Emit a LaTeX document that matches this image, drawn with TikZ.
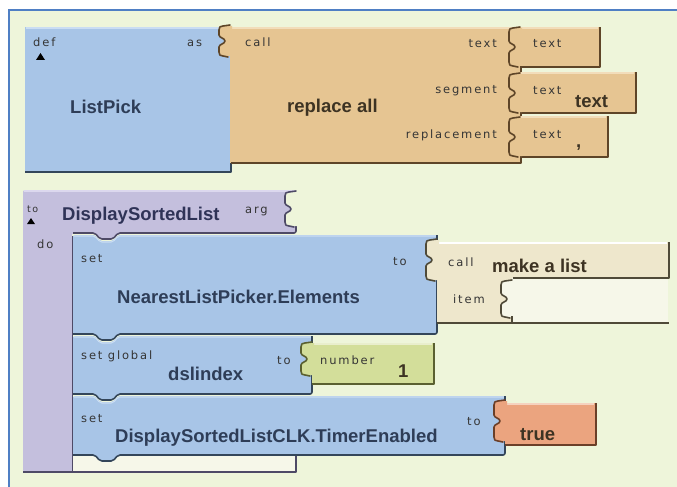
\documentclass[tikz,border=0pt]{standalone}
\usepackage{fontspec}
\setmainfont{Liberation Sans}
\newfontfamily\labfont[LetterSpace=16]{DejaVu Sans}
\definecolor{bg}{HTML}{EEF5DA}
\definecolor{frameblue}{HTML}{4F7FC4}
\definecolor{blueblk}{HTML}{A8C5E7}
\definecolor{bluedk}{HTML}{34465A}
\definecolor{bluehi}{HTML}{CADDF3}
\definecolor{tanblk}{HTML}{E6C592}
\definecolor{tandk}{HTML}{5E4528}
\definecolor{tanhi}{HTML}{F2DDBA}
\definecolor{purp}{HTML}{C4BFDD}
\definecolor{purpdk}{HTML}{4E4A66}
\definecolor{purphi}{HTML}{DCD8EE}
\definecolor{beige}{HTML}{EEE7CC}
\definecolor{beigedk}{HTML}{4F4A38}
\definecolor{grn}{HTML}{D3DE9A}
\definecolor{grndk}{HTML}{5A6030}
\definecolor{salmon}{HTML}{EBA47F}
\definecolor{salmondk}{HTML}{6B3F28}
\definecolor{hole}{HTML}{F6F7E9}
\definecolor{labc}{HTML}{353535}
\definecolor{bluetxt}{HTML}{2E3D57}
\definecolor{tantxt}{HTML}{3D3323}
\definecolor{purptxt}{HTML}{2F3357}
\tikzset{
  blkedge/.style={line width=1.6pt, line join=round},
  hiedge/.style={line width=1.1pt},
  lab/.style={font=\labfont\fontsize{11.5}{12}\selectfont, text=labc, inner sep=0pt, anchor=base west},
  labr/.style={lab, anchor=base east},
  big/.style={font=\fontsize{18.5}{19}\selectfont\bfseries, inner sep=0pt, anchor=base west},
}
% value tab (male plug) or empty socket: fill, dark, X, Y, H
\newcommand\aiTab[5]{%
  \fill[#1] ({#3+2},{#4}) -- ({#3-7},{#4})
    .. controls ({#3-10},{#4}) and ({#3-11},{#4+1}) .. ({#3-11},{#4+4})
    -- ({#3-11},{#4+#5/2-6})
    .. controls ({#3-11},{#4+#5/2-3}) and ({#3-5},{#4+#5/2-3}) .. ({#3-5},{#4+#5/2})
    .. controls ({#3-5},{#4+#5/2+3}) and ({#3-11},{#4+#5/2+3}) .. ({#3-11},{#4+#5/2+6})
    -- ({#3-11},{#4+#5-4})
    .. controls ({#3-11},{#4+#5-1}) and ({#3-10},{#4+#5}) .. ({#3-7},{#4+#5})
    -- ({#3+2},{#4+#5}) -- cycle;
  \draw[#2, line width=1.6pt, line cap=round, line join=round]
    ({#3},{#4-1}) .. controls ({#3-3},{#4}) .. ({#3-7},{#4})
    .. controls ({#3-10},{#4}) and ({#3-11},{#4+1}) .. ({#3-11},{#4+4})
    -- ({#3-11},{#4+#5/2-6})
    .. controls ({#3-11},{#4+#5/2-3}) and ({#3-5},{#4+#5/2-3}) .. ({#3-5},{#4+#5/2})
    .. controls ({#3-5},{#4+#5/2+3}) and ({#3-11},{#4+#5/2+3}) .. ({#3-11},{#4+#5/2+6})
    -- ({#3-11},{#4+#5-4})
    .. controls ({#3-11},{#4+#5-1}) and ({#3-10},{#4+#5}) .. ({#3-7},{#4+#5})
    .. controls ({#3-4},{#4+#5}) .. ({#3-2},{#4+#5+1});
}
% statement block with top notch and bottom bump: fill, dark, hi, x0, y0, x1, y1
\newcommand\aiStmt[7]{%
  \fill[#1, rounded corners=2pt] (#4,#5) -- ({#4+22},#5) -- ({#4+27},{#5+6}) -- ({#4+40},{#5+6}) -- ({#4+45},#5) -- (#6,#5) -- (#6,#7) -- ({#4+45},#7) -- ({#4+40},{#7+6}) -- ({#4+27},{#7+6}) -- ({#4+22},#7) -- (#4,#7) -- cycle;
  \draw[#3, hiedge, rounded corners=2pt] ({#4+1},{#5+1}) -- ({#4+22},{#5+1}) -- ({#4+27},{#5+7}) -- ({#4+40},{#5+7}) -- ({#4+45},{#5+1}) -- ({#6-1},{#5+1});
  \draw[#2, blkedge, rounded corners=2pt] (#4,#7) -- ({#4+22},#7) -- ({#4+27},{#7+6}) -- ({#4+40},{#7+6}) -- ({#4+45},#7) -- (#6,#7) -- (#6,#5);
}
\begin{document}
\begin{tikzpicture}[x=1pt, y=-1pt]
\useasboundingbox (0,0) rectangle (677,487);
\fill[white] (0,0) rectangle (677,487);
% workspace
\fill[bg] (9,10) rectangle (677,487);
\draw[frameblue, line width=1.6pt] (9,487) -- (9,10) -- (677,10);

% ---- def ListPick as replace all
\fill[blueblk] (25,27) rectangle (230,172);
\draw[bluehi, hiedge] (26,28) -- (229,28);
\draw[bluedk, blkedge] (25,172) -- (231,172) -- (231,56);
\fill[tanblk] (230,27) rectangle (520,163);
\draw[tanhi, hiedge] (231,28) -- (519,28);
\draw[tandk, blkedge] (231,163) -- (521,163) -- (521,30);
\aiTab{tanblk}{tandk}{230}{26}{30}
% text blocks
\fill[tanblk] (520,27) rectangle (599,67);
\draw[tanhi, hiedge] (521,28) -- (598,28);
\draw[tandk, blkedge] (520,67) -- (600,67) -- (600,27);
\aiTab{tanblk}{tandk}{520}{28}{38}
\fill[tanblk] (520,72) rectangle (635,113);
\draw[tanhi, hiedge] (521,73) -- (634,73);
\draw[tandk, blkedge] (520,113) -- (636,113) -- (636,72);
\aiTab{tanblk}{tandk}{520}{74}{38}
\fill[tanblk] (520,116) rectangle (607,157);
\draw[tanhi, hiedge] (521,117) -- (606,117);
\draw[tandk, blkedge] (520,157) -- (608,157) -- (608,116);
\aiTab{tanblk}{tandk}{520}{118}{38}

\node[lab] (def) at (33,47) {def};
\fill[black] (36,60) -- (45,60) -- (40.5,53) -- cycle;
\node[lab] (as) at (187,47) {as};
\node[big, text=bluetxt] (listpick) at (70,113) {ListPick};
\node[lab] (call1) at (245,47) {call};
\node[big, text=tantxt] (replall) at (287,112) {replace all};
\node[labr] (ltext) at (497,48) {text};
\node[labr] (lseg) at (497,93) {segment};
\node[labr] (lrepl) at (497,138) {replacement};
\node[lab] (t1) at (533,48) {text};
\node[lab] (t2) at (533,94) {text};
\node[big, text=tantxt] (t2v) at (575,107) {text};
\node[lab] (t3) at (533,138) {text};
\node[big, text=tantxt] (t3v) at (576,147) {,};

% ---- procedure DisplaySortedList
\fill[purp, rounded corners=2pt] (23,190) -- (295,190) -- (295,233) -- (118,233) -- (113,239) -- (100,239) -- (95,233) -- (72,233) -- (72,472) -- (23,472) -- cycle;
\draw[purphi, hiedge] (24,191) -- (294,191);
\draw[purpdk, blkedge, rounded corners=2pt] (296,226) -- (296,233) -- (118,233) -- (113,239) -- (100,239) -- (95,233) -- (73,233);
\aiTab{bg}{purpdk}{296}{192}{34}
\fill[hole] (72,455) rectangle (295,471);
\draw[purpdk, blkedge] (23,472) -- (296,472) -- (296,456);
\draw[purpdk, line width=1.2pt] (72.5,236) -- (72.5,471);
\node[lab, font=\labfont\fontsize{9.5}{10}\selectfont] (to0) at (27,212) {to};
\fill[black] (27,224) -- (35,224) -- (31,218) -- cycle;
\node[big, text=purptxt] (dsl) at (62,220) {DisplaySortedList};
\node[lab] (arg) at (245,213) {arg};
\node[lab] (do) at (37,248) {do};

% set NearestListPicker.Elements
\aiStmt{blueblk}{bluedk}{bluehi}{73}{235}{437}{334}
\fill[beige] (437,242) rectangle (668,278);
\fill[beige] (437,278) rectangle (512,323);
\fill[hole] (512,278) rectangle (668,322);
\draw[beigedk, blkedge] (437,323) -- (669,323);
\draw[beigedk, blkedge] (513,278) -- (669,278) -- (669,242);
\draw[white, hiedge] (438,243) -- (667,243);
\aiTab{beige}{beigedk}{437}{240}{40}
\aiTab{hole}{beigedk}{512}{281}{36}
\draw[beigedk, line width=1.4pt] (512,316) -- (512,322);
\node[lab] (set1) at (81,262) {set};
\node[big, text=bluetxt] (nlp) at (117,303) {NearestListPicker.Elements};
\node[lab] (to1) at (393,265) {to};
\node[lab] (call2) at (448,266) {call};
\node[big, text=tantxt] (mkl) at (492,272) {make a list};
\node[lab] (item) at (453,303) {item};

% set global dslindex
\aiStmt{blueblk}{bluedk}{bluehi}{73}{336}{312}{394}
\fill[grn] (312,343) rectangle (433,384);
\draw[white!50!grn, hiedge] (313,344) -- (432,344);
\draw[grndk, blkedge] (312,384) -- (434,384) -- (434,343);
\aiTab{grn}{grndk}{312}{343}{32}
\node[lab] (setg) at (81,359) {set global};
\node[big, text=bluetxt] (dsl2) at (168,380) {dslindex};
\node[lab] (to2) at (277,364) {to};
\node[lab] (num) at (320,364) {number};
\node[big, text=tantxt] (one) at (398,377) {1};

% set DisplaySortedListCLK.TimerEnabled
\aiStmt{blueblk}{bluedk}{bluehi}{73}{396}{505}{455}
\fill[salmon] (505,403) rectangle (595,445);
\draw[white!50!salmon, hiedge] (506,404) -- (594,404);
\draw[salmondk, blkedge] (505,445) -- (596,445) -- (596,403);
\aiTab{salmon}{salmondk}{505}{401}{40}
\node[lab] (set3) at (81,422) {set};
\node[big, text=bluetxt] (clk) at (115,442) {DisplaySortedListCLK.TimerEnabled};
\node[lab] (to3) at (467,425) {to};
\node[big, text=tantxt] (true) at (520,440) {true};
\end{tikzpicture}
\end{document}
